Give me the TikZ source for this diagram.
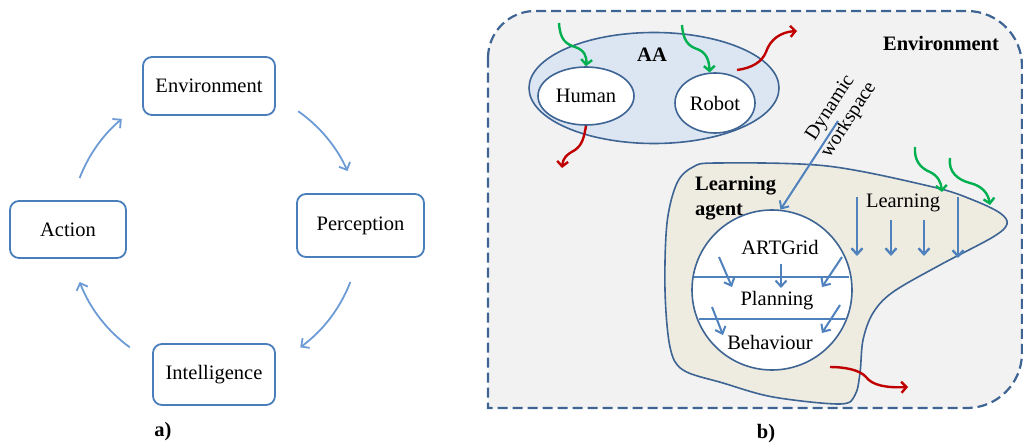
\documentclass[tikz,border=0pt]{standalone}
\usepackage{fontspec}
\setmainfont{Liberation Serif}
\usetikzlibrary{arrows.meta,shapes.geometric,calc}
\definecolor{boxblue}{HTML}{4A7EBB}
\definecolor{arcblue}{HTML}{6C9BD6}
\definecolor{darkblue}{HTML}{3E6494}
\definecolor{midblue}{HTML}{4F81BD}
\definecolor{envgray}{HTML}{F2F2F2}
\definecolor{aafill}{HTML}{DCE6F2}
\definecolor{agentfill}{HTML}{EEECE1}
\definecolor{grn}{HTML}{00B050}
\definecolor{rd}{HTML}{C00000}
\begin{document}
\begin{tikzpicture}[x=1pt,y=-1pt,
  every node/.style={font=\fontsize{20.5}{23}\selectfont, inner sep=0pt},
  abox/.style={draw=boxblue, line width=1.8pt, rounded corners=9pt},
  cycarr/.style={draw=arcblue, line width=1.8pt, -{Straight Barb[length=6pt,width=12pt]}},
  barr/.style={draw=midblue, line width=2pt, -{Straight Barb[length=6pt,width=11pt]}},
  wave/.style={line width=2.4pt, -{Straight Barb[length=5pt,width=11pt]}},
  outl/.style={draw=darkblue, line width=1.6pt},
  lbl/.style={font=\fontsize{20.5}{23}\selectfont\bfseries}]
\useasboundingbox (0,0) rectangle (1023,446);

% ---------- panel a ----------
\node[abox, minimum width=132pt, minimum height=58pt] (env) at (209,86) {Environment};
\node[abox, minimum width=127pt, minimum height=63pt] (perc) at (360.5,225.5) {Perception};
\node[abox, minimum width=122pt, minimum height=61pt] (intel) at (214,374.5) {Intelligence};
\node[abox, minimum width=116pt, minimum height=57pt] (act) at (68,229.5) {Action};
\coordinate (cc) at (215,230);
\draw[cycarr] (cc) ++(55:145pt) arc[start angle=55, end angle=24, radius=145pt];
\draw[cycarr] (cc) ++(-21:145pt) arc[start angle=-21, end angle=-54, radius=145pt];
\draw[cycarr] (cc) ++(234:145pt) arc[start angle=234, end angle=201, radius=145pt];
\draw[cycarr] (cc) ++(159:145pt) arc[start angle=159, end angle=130, radius=145pt];
\node[lbl] (la) at (163,432) {a)};

% ---------- panel b ----------
\draw[draw=darkblue, fill=envgray, line width=2.2pt, dash pattern=on 10pt off 5pt]
  (488,58) arc[start angle=180, end angle=90, radius=47pt] -- (967,11)
  arc[start angle=90, end angle=0, radius=55pt] -- (1022,353)
  arc[start angle=0, end angle=-90, radius=55pt] -- (488,408) -- cycle;
\node[lbl] (envl) at (941,43) {Environment};

% AA group
\node[ellipse, outl, fill=aafill, minimum width=250pt, minimum height=111pt] (aa) at (654,88) {};
\node[lbl] (aal) at (652,55) {AA};
\node[ellipse, outl, fill=white, minimum width=96pt, minimum height=58pt] (human) at (586,96) {Human};
\node[ellipse, outl, fill=white, minimum width=80pt, minimum height=60pt] (robot) at (715,103) {\raisebox{-3pt}{Robot}};

% Learning agent blob
\draw[outl, fill=agentfill] plot[smooth cycle, tension=0.55] coordinates {
  (717,163) (827,166) (933,187) (973,200) (1000,213) (1007,224) (993,237) (940,265)
  (893,292) (873,313) (863,340) (860,373) (855,395) (840,404) (773,397) (723,383)
  (683,370) (670,347) (665,290) (667,223) (677,183) (693,167)};
\node[lbl, anchor=base west] (lag1) at (695,191) {Learning};
\node[lbl, anchor=base west] (lag2) at (695,216) {agent};

% ARTGrid circle
\node[circle, outl, fill=white, minimum size=160pt] (grid) at (772,290) {};
\begin{scope}
  \clip (772,290) circle[radius=79pt];
  \draw[draw=midblue, line width=1.2pt] (692,277) -- (849,277);
  \draw[draw=midblue, line width=2.4pt] (699,319) -- (849,319);
\end{scope}
\node (artg) at (780,247) {ARTGrid};
\node (plan) at (777,301) {Planning};
\node (behav) at (770,342) {Behaviour};

\coordinate (a1s) at (719,257); \coordinate (a1e) at (732,287);
\coordinate (a2s) at (781,264); \coordinate (a2e) at (781,288);
\coordinate (a3s) at (842,257); \coordinate (a3e) at (822,287);
\coordinate (a4s) at (712,307); \coordinate (a4e) at (723,335);
\coordinate (a5s) at (840,305); \coordinate (a5e) at (822,333);
\foreach \i in {1,...,5} \draw[barr] (a\i s) -- (a\i e);

% Learning arrows
\node (learn) at (903,203) {Learning};
\coordinate (l1s) at (857,197); \coordinate (l1e) at (857,256);
\coordinate (l2s) at (891,220); \coordinate (l2e) at (891,256);
\coordinate (l3s) at (924,220); \coordinate (l3e) at (924,256);
\coordinate (l4s) at (958,197); \coordinate (l4e) at (958,258);
\foreach \i in {1,...,4} \draw[barr, line width=2.4pt] (l\i s) -- (l\i e);

% Dynamic workspace
\node[rotate=57, align=center, font=\fontsize{20}{22}\selectfont] (dw) at (840,114) {Dynamic\\workspace};
\coordinate (dws) at (838,121);
\draw[barr] (dws) -- (grid.84);

% green inputs
\coordinate (g1s) at (559,23);
\draw[wave, grn] (g1s) .. controls (560,40) and (566,44) .. (575,47) .. controls (584,50) and (587,56) .. (human.north);
\coordinate (g2s) at (682,25);
\draw[wave, grn] (g2s) .. controls (683,40) and (688,46) .. (697,49) .. controls (705,52) and (709,58) .. (robot.100);
\coordinate (g3s) at (915,147); \coordinate (g3e) at (942,192);
\draw[wave, grn] (g3s) .. controls (914,160) and (920,168) .. (930,172) .. controls (938,176) and (941,182) .. (g3e);
\coordinate (g4s) at (950,158); \coordinate (g4e) at (990,205);
\draw[wave, grn] (g4s) .. controls (948,172) and (958,180) .. (970,183) .. controls (982,186) and (988,193) .. (g4e);

% red outputs
\coordinate (r1s) at (737,70); \coordinate (r1e) at (797,31);
\draw[wave, rd] (r1s) .. controls (752,68) and (762,62) .. (766,52) .. controls (770,40) and (780,32) .. (r1e);
\coordinate (r2e) at (562,168);
\draw[wave, rd] (human.south) .. controls (584,138) and (582,145) .. (575,150) .. controls (566,155) and (563,158) .. (r2e);
\coordinate (r3s) at (830,367); \coordinate (r3e) at (908,387);
\draw[wave, rd] (r3s) .. controls (845,367) and (860,370) .. (866,377) .. controls (872,385) and (885,388) .. (r3e);

\node[lbl] (lb) at (766,434) {b)};
\end{tikzpicture}
\end{document}
